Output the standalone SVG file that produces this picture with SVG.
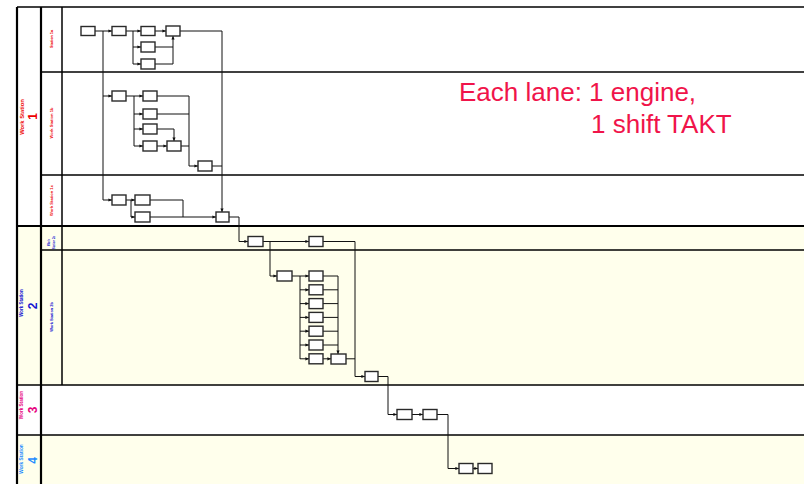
<svg xmlns="http://www.w3.org/2000/svg" width="804" height="484" viewBox="0 0 804 484">
<style>
.lane{stroke:#000;stroke-width:1.5;fill:none}
.thick{stroke:#000;stroke-width:2.2;fill:none}
.box{fill:#fff;stroke:#2a2a2a;stroke-width:1.4}
.c{fill:none;stroke:#111;stroke-width:1}
.ca{fill:none;stroke:#111;stroke-width:1;marker-end:url(#ah)}
.lbl{font-family:"Liberation Sans",Arial,sans-serif}
.b{font-weight:bold}
</style>
<defs>
<marker id="ah" markerUnits="userSpaceOnUse" markerWidth="4" markerHeight="4" refX="3.6" refY="2" orient="auto">
<path d="M0,0.4 L3.6,2 L0,3.6 z" fill="#111"/>
</marker>
</defs>
<rect width="804" height="484" fill="#fff"/>
<g id="lanes">
<rect x="17" y="226" width="787" height="159" fill="#ffffec"/>
<rect x="17" y="435" width="787" height="49" fill="#ffffec"/>
<line class="lane" x1="17" y1="7" x2="804" y2="7"/>
<line class="lane" x1="41" y1="72" x2="804" y2="72"/>
<line class="lane" x1="41" y1="175" x2="804" y2="175"/>
<line class="thick" x1="17" y1="226" x2="804" y2="226"/>
<line class="lane" x1="41" y1="250" x2="804" y2="250"/>
<line class="lane" x1="17" y1="385" x2="804" y2="385"/>
<line class="lane" x1="17" y1="435" x2="804" y2="435"/>
<line class="thick" x1="17" y1="7" x2="17" y2="484"/>
<line class="thick" x1="41" y1="7" x2="41" y2="484"/>
<line class="lane" x1="62" y1="7" x2="62" y2="385"/>
</g>
<g id="lane-labels" class="lbl b">
<text transform="translate(23.5,117) rotate(-90)" font-size="5.8" fill="#ee0000" text-anchor="middle">Work Station</text>
<text transform="translate(37,116.5) rotate(-90)" font-size="12" fill="#ee0000" text-anchor="middle">1</text>
<text transform="translate(53.3,39) rotate(-90)" font-size="3.8" fill="#ee0000" text-anchor="middle">Station 1a</text>
<text transform="translate(53.3,123) rotate(-90)" font-size="4.1" fill="#ee0000" text-anchor="middle">Work Station 1b</text>
<text transform="translate(53.3,200.5) rotate(-90)" font-size="4.1" fill="#ee0000" text-anchor="middle">Work Station 1c</text>
<text transform="translate(23,303) rotate(-90)" font-size="4.5" fill="#1414d2" text-anchor="middle">Work Station</text>
<text transform="translate(37,306) rotate(-90)" font-size="12" fill="#1414d2" text-anchor="middle">2</text>
<text transform="translate(50,242.5) rotate(-90)" font-size="2.8" fill="#1414d2" text-anchor="middle">Work</text>
<text transform="translate(54.5,242.5) rotate(-90)" font-size="2.8" fill="#1414d2" text-anchor="middle">Station 2a</text>
<text transform="translate(53.3,317) rotate(-90)" font-size="3.9" fill="#1414d2" text-anchor="middle">Work Station 2b</text>
<text transform="translate(23,405) rotate(-90)" font-size="4.6" fill="#e6007e" text-anchor="middle">Work Station</text>
<text transform="translate(37,410) rotate(-90)" font-size="12" fill="#e6007e" text-anchor="middle">3</text>
<text transform="translate(23,459) rotate(-90)" font-size="4.8" fill="#1e8cff" text-anchor="middle">Work Station</text>
<text transform="translate(37,460.5) rotate(-90)" font-size="12" fill="#1e8cff" text-anchor="middle">4</text>
</g>
<g id="note" class="lbl" font-size="26" fill="#f0144a">
<text x="459" y="101">Each lane: 1 engine,</text>
<text x="591" y="133">1 shift TAKT</text>
</g>
<g id="connectors">
<path class="ca" d="M95,31 H112"/>
<path class="c" d="M103,31 V200"/>
<path class="ca" d="M126,31 H141"/>
<path class="c" d="M133,31 V64"/>
<path class="ca" d="M133,47 H141"/>
<path class="ca" d="M133,64 H141"/>
<path class="ca" d="M155,31 H166"/>
<path class="c" d="M155,47 H173"/>
<path class="ca" d="M155,64 H173 V36"/>
<path class="ca" d="M180,31 H222 V212"/>
<path class="ca" d="M103,96 H112"/>
<path class="ca" d="M126,96 H143"/>
<path class="c" d="M134,96 V146"/>
<path class="ca" d="M134,114 H143"/>
<path class="ca" d="M134,129 H143"/>
<path class="ca" d="M134,146 H143"/>
<path class="ca" d="M157,129 H174 V141"/>
<path class="ca" d="M157,146 H167"/>
<path class="c" d="M157,96 H189 V166"/>
<path class="c" d="M157,114 H189"/>
<path class="c" d="M181,146 H189"/>
<path class="ca" d="M189,166 H198"/>
<path class="c" d="M212,166 H222"/>
<path class="ca" d="M103,200 H112"/>
<path class="ca" d="M126,200 H135"/>
<path class="ca" d="M131,200 V217 H135"/>
<path class="c" d="M150,200 H183 V217"/>
<path class="ca" d="M150,217 H216"/>
<path class="ca" d="M229,217 H239 V241.5 H248"/>
<path class="ca" d="M263,241.5 H309"/>
<path class="ca" d="M270,241.5 V276 H277"/>
<path class="ca" d="M323,241.5 H355 V376.5 H365"/>
<path class="c" d="M292,276 H300 V359"/>
<path class="ca" d="M300,276 H309"/>
<path class="ca" d="M300,289.8 H309"/>
<path class="ca" d="M300,303.6 H309"/>
<path class="ca" d="M300,317.4 H309"/>
<path class="ca" d="M300,331.2 H309"/>
<path class="ca" d="M300,345 H309"/>
<path class="ca" d="M300,358.8 H309"/>
<path class="ca" d="M323,276 H338 V354"/>
<path class="c" d="M323,289.8 H338"/>
<path class="c" d="M323,303.6 H338"/>
<path class="c" d="M323,317.4 H338"/>
<path class="c" d="M323,331.2 H338"/>
<path class="c" d="M323,345 H338"/>
<path class="ca" d="M323,358.8 H331"/>
<path class="c" d="M346,358.8 H355"/>
<path class="ca" d="M378,376.5 H388 V414.5 H397"/>
<path class="ca" d="M412,414.5 H423"/>
<path class="ca" d="M437,414.5 H448 V468.5 H459"/>
<path class="ca" d="M473,468.5 H478"/>
</g>
<g id="n1"><rect class="box" x="81" y="26.5" width="14" height="9"/></g>
<g id="n2"><rect class="box" x="112" y="26.5" width="14" height="9"/></g>
<g id="n3"><rect class="box" x="141" y="26.5" width="14" height="9"/></g>
<g id="n4"><rect class="box" x="166" y="26" width="14" height="10"/></g>
<g id="n5"><rect class="box" x="141" y="42" width="14" height="10"/></g>
<g id="n6"><rect class="box" x="141" y="59" width="14" height="10"/></g>
<g id="n7"><rect class="box" x="112" y="91" width="14" height="10"/></g>
<g id="n8"><rect class="box" x="143" y="91" width="14" height="10"/></g>
<g id="n9"><rect class="box" x="143" y="109" width="14" height="10"/></g>
<g id="n10"><rect class="box" x="143" y="124" width="14" height="10"/></g>
<g id="n11"><rect class="box" x="143" y="141" width="14" height="10"/></g>
<g id="n12"><rect class="box" x="167" y="141" width="14" height="10"/></g>
<g id="n13"><rect class="box" x="198" y="161" width="14" height="10"/></g>
<g id="n14"><rect class="box" x="112" y="195" width="14" height="10"/></g>
<g id="n15"><rect class="box" x="135" y="195" width="15" height="10"/></g>
<g id="n16"><rect class="box" x="135" y="212" width="15" height="10"/></g>
<g id="n17"><rect class="box" x="216" y="212" width="13" height="10"/></g>
<g id="n18"><rect class="box" x="248" y="236.5" width="15" height="10"/></g>
<g id="n19"><rect class="box" x="309" y="236.5" width="14" height="10"/></g>
<g id="n20"><rect class="box" x="277" y="271" width="15" height="10"/></g>
<g id="n21"><rect class="box" x="309" y="271" width="14" height="10"/></g>
<g id="n22"><rect class="box" x="309" y="284.8" width="14" height="10"/></g>
<g id="n23"><rect class="box" x="309" y="298.6" width="14" height="10"/></g>
<g id="n24"><rect class="box" x="309" y="312.4" width="14" height="10"/></g>
<g id="n25"><rect class="box" x="309" y="326.2" width="14" height="10"/></g>
<g id="n26"><rect class="box" x="309" y="340" width="14" height="10"/></g>
<g id="n27"><rect class="box" x="309" y="353.8" width="14" height="10"/></g>
<g id="n28"><rect class="box" x="331" y="354" width="15" height="10"/></g>
<g id="n29"><rect class="box" x="365" y="371.5" width="13" height="10"/></g>
<g id="n30"><rect class="box" x="397" y="409.5" width="15" height="10"/></g>
<g id="n31"><rect class="box" x="423" y="409.5" width="14" height="10"/></g>
<g id="n32"><rect class="box" x="459" y="463.5" width="14" height="10"/></g>
<g id="n33"><rect class="box" x="478" y="463.5" width="14" height="10"/></g>
</svg>
